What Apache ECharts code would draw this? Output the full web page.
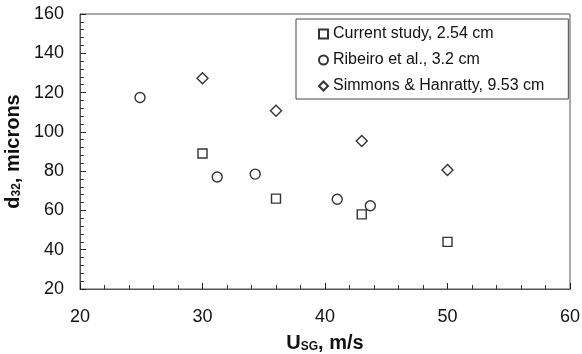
<!DOCTYPE html>
<html>
<head>
<meta charset="utf-8">
<script src="https://cdn.jsdelivr.net/npm/echarts@6/dist/echarts.min.js"></script>
<style>
html,body{margin:0;padding:0;background:#fff;}
#chart{width:582px;height:354px;}
</style>
</head>
<body>
<div id="chart"></div>
<script>
// Data
const seriesNames = ['Current study, 2.54 cm', 'Ribeiro et al., 3.2 cm', 'Simmons & Hanratty, 9.53 cm'];
const currentX = [30, 36, 43, 50];
const currentY = [89, 66, 58, 44];
const ribeiroX = [24.9, 31.2, 34.3, 41.0, 43.7];
const ribeiroY = [117.5, 77, 78.5, 65.7, 62.4];
const simmonsX = [30, 36, 43, 50];
const simmonsY = [127.3, 110.8, 95.3, 80.6];
const xTicks = [20, 30, 40, 50, 60];
const yTicks = [20, 40, 60, 80, 100, 120, 140, 160];

const zip = (xs, ys) => xs.map((x, i) => [x, ys[i]]);
const FONT = '"Liberation Sans", Arial, Helvetica, sans-serif';
const mk = {color: '#fff', borderColor: '#000', borderWidth: 1.4};
const richName = {
  a: {fontSize: 20, fontWeight: 'bold', color: '#111', fontFamily: FONT, lineHeight: 22, verticalAlign: 'bottom'},
  s: {fontSize: 12, fontWeight: 'bold', color: '#111', fontFamily: FONT, lineHeight: 12, verticalAlign: 'bottom'}
};

const chart = echarts.init(document.getElementById('chart'), null, {renderer: 'canvas'});
chart.setOption({
  backgroundColor: '#fff',
  animation: false,
  textStyle: {fontFamily: FONT},
  grid: {left: 80, right: 12, top: 14, bottom: 65, containLabel: false, outerBoundsMode: 'none',
         show: true, borderColor: '#555', borderWidth: 1, backgroundColor: 'transparent'},
  legend: {
    orient: 'vertical', left: 296, top: 19,
    borderColor: '#444', borderWidth: 1,
    padding: [6, 24, 4, 22],
    itemGap: 8, itemWidth: 9, itemHeight: 9,
    textStyle: {fontSize: 16, color: '#111', fontFamily: FONT, lineHeight: 18},
    data: seriesNames
  },
  xAxis: {
    type: 'value', min: xTicks[0], max: xTicks[xTicks.length - 1], interval: 10,
    axisLine: {show: true, onZero: false, lineStyle: {color: '#555', width: 1}},
    axisTick: {show: true, inside: true, length: 6, lineStyle: {color: '#222', width: 1}},
    minorTick: {show: true, splitNumber: 5, length: 4, lineStyle: {color: '#333', width: 1}},
    splitLine: {show: false},
    axisLabel: {fontSize: 18, color: '#111', margin: 19, fontFamily: FONT},
    name: '{a|U}{s|SG}{a|, m/s}',
    nameLocation: 'middle', nameGap: 42,
    nameTextStyle: {rich: richName}
  },
  yAxis: {
    type: 'value', min: yTicks[0], max: yTicks[yTicks.length - 1], interval: 20,
    axisLine: {show: true, onZero: false, lineStyle: {color: '#555', width: 1}},
    axisTick: {show: true, inside: true, length: 6, lineStyle: {color: '#222', width: 1}},
    minorTick: {show: true, splitNumber: 5, length: 4, lineStyle: {color: '#333', width: 1}},
    splitLine: {show: false},
    axisLabel: {fontSize: 18, color: '#111', margin: 16, fontFamily: FONT},
    name: '{a|d}{s|32}{a|, microns}',
    nameLocation: 'middle', nameGap: 41,
    nameTextStyle: {rich: richName}
  },
  series: [
    {name: seriesNames[0], type: 'scatter', symbol: 'rect', symbolSize: 9, itemStyle: mk, data: zip(currentX, currentY)},
    {name: seriesNames[1], type: 'scatter', symbol: 'circle', symbolSize: 10, itemStyle: mk, data: zip(ribeiroX, ribeiroY)},
    {name: seriesNames[2], type: 'scatter', symbol: 'diamond', symbolSize: [11, 11], itemStyle: mk, data: zip(simmonsX, simmonsY)}
  ]
});
</script>
</body>
</html>
